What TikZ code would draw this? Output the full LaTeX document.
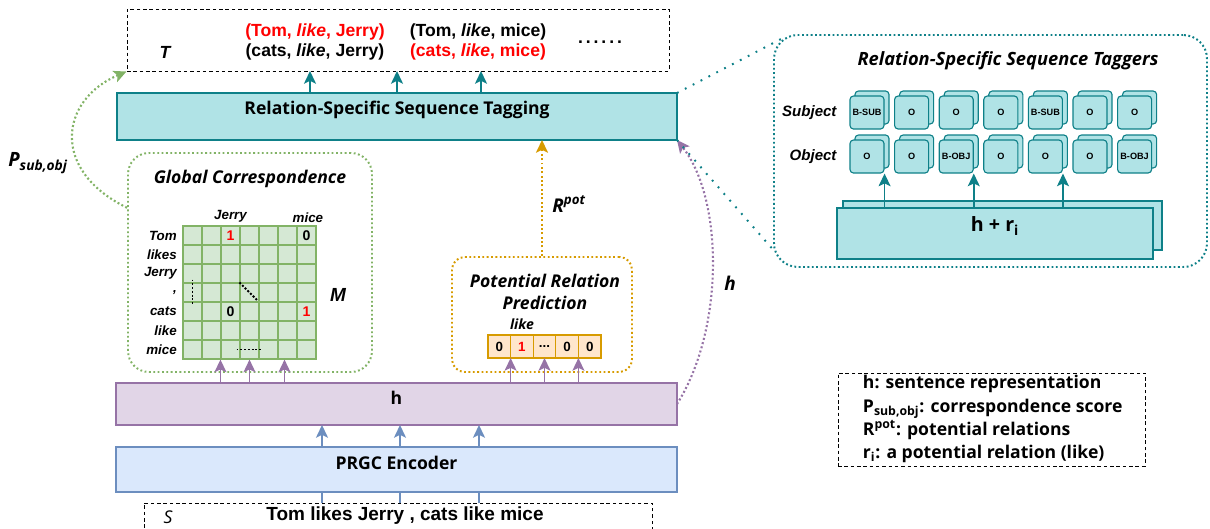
\documentclass[tikz,border=0pt]{standalone}
\usepackage{fontspec}
\setmainfont{Liberation Sans}
\newfontfamily\comic{Open Sans}
\usetikzlibrary{arrows.meta,fit,positioning,calc}

\definecolor{tealfill}{HTML}{B0E3E6}
\definecolor{tealline}{HTML}{0E8088}
\definecolor{purpfill}{HTML}{E1D5E7}
\definecolor{purpline}{HTML}{9673A6}
\definecolor{bluefill}{HTML}{DAE8FC}
\definecolor{blueline}{HTML}{6C8EBF}
\definecolor{grnfill}{HTML}{D5E8D4}
\definecolor{grnline}{HTML}{82B366}
\definecolor{orgfill}{HTML}{FFE6CC}
\definecolor{orgline}{HTML}{D79B00}

\tikzset{
  box/.style={draw,inner sep=0pt,outer sep=0pt,line width=0.9pt},
  dashbox/.style={draw,inner sep=0pt,dash pattern=on 2.5pt off 2pt,line width=0.7pt},
  tealbox/.style={box,draw=tealline,fill=tealfill},
  dotbox/.style={draw,inner sep=0pt,line width=1.4pt,dash pattern=on 1.3pt off 1.8pt},
  cell/.style={draw=grnline,fill=grnfill,line width=0.8pt,minimum size=0.475cm,inner sep=0pt},
  vcell/.style={draw=orgline,fill=orgfill,line width=0.8pt,minimum width=0.565cm,minimum height=0.575cm,inner sep=0pt,outer sep=0pt,font=\bfseries\fontsize{9.5}{10}\selectfont},
  tagcell/.style={draw=tealline,fill=tealfill,line width=0.8pt,rounded corners=2.5pt,minimum width=0.85cm,minimum height=0.825cm,inner sep=0pt,font=\bfseries\fontsize{6.5}{7}\selectfont},
  comicb/.style={font=\comic\bfseries\fontsize{12.5}{14}\selectfont},
  comicbi/.style={font=\comic\bfseries\itshape\fontsize{12.5}{14}\selectfont},
  triple/.style={font=\bfseries\fontsize{12.5}{14}\selectfont},
  lab/.style={font=\bfseries\itshape\fontsize{9.5}{10}\selectfont,inner sep=1pt},
  val/.style={font=\bfseries\fontsize{10}{11}\selectfont},
  arr/.style={-{Stealth[length=9pt,width=8.5pt,inset=2pt]},line width=1.2pt},
  dots/.style={line width=1.5pt,dash pattern=on 1.4pt off 1.7pt},
}

\begin{document}
\begin{tikzpicture}[x=0.025cm,y=-0.025cm]
\useasboundingbox (0,0) rectangle (1210,528);

% output triples
\node[dashbox,fit={(127,9) (669,71)}] (tbox) {};
\node[font=\bfseries\itshape\fontsize{12.5}{14}\selectfont] (tl) at (165,52) {T};
\node[triple,text=red] (tr1) at (315,32) {(Tom, \textit{like}, Jerry)};
\node[triple] (tr2) at (315,52) {(cats, \textit{like}, Jerry)};
\node[triple] (tr3) at (478,32) {(Tom, \textit{like}, mice)};
\node[triple,text=red] (tr4) at (478,52) {(cats, \textit{like}, mice)};
\node[triple] (tdots) at (600,42) {.\,.\,.\,.\,.\,.};

% main stack
\node[tealbox,fit={(117,93) (677,140)},comicb] (rsst) {Relation-Specific Sequence Tagging};
\node[box,draw=purpline,fill=purpfill,fit={(116,383) (677,425)},comicb] (hbox) {h};
\node[box,draw=blueline,fill=bluefill,fit={(116,447) (677,492)},comicb] (enc) {PRGC Encoder};
\node[dashbox,fit={(144,503) (652,535)}] (sbox) {};
\node[font=\comic\itshape\fontsize{12.5}{14}\selectfont] (sl) at (168,517) {S};
\node[font=\bfseries\fontsize{13.5}{15}\selectfont] (sent) at (405,516) {Tom likes Jerry , cats like mice};

\foreach \dx in {-87,0,84}
  \draw[arr,tealline] ($(rsst.north)+(\dx,0)$) -- ++(0,-22);
\foreach \dx in {-74.5,3.5,82.5}{
  \draw[arr,blueline] ($(enc.north)+(\dx,0)$) -- ++(0,-22);
  \draw[blueline,line width=1.2pt] ($(enc.south)+(\dx,11)$) -- ($(enc.south)+(\dx,0)$);
}

% global correspondence
\node[dotbox,draw=grnline,rounded corners=15pt,fit={(128,153) (372,372)}] (glob) {};
\node[comicbi] (gtitle) at (250,179) {Global Correspondence};
\foreach \r in {1,...,7}
  \foreach \c in {1,...,7}
    \node[cell] (m-\r-\c) at ({192.5+19*(\c-1)},{235.5+19*(\r-1)}) {};
\foreach \w [count=\r] in {Tom,likes,Jerry,{,},cats,like,mice}
  \node[lab,anchor=east] (rl-\r) at ($(m-\r-1.west)+(-4,0)$) {\w};
\node[lab,above=1pt of m-1-3] (cl-3) {Jerry};
\node[lab,above=1pt of m-1-7,xshift=1pt] (cl-7) {mice};
\node[val,text=red] (v13) at (m-1-3) {1};
\node[val] (v17) at (m-1-7) {0};
\node[val] (v53) at (m-5-3) {0};
\node[val,text=red] (v57) at (m-5-7) {1};
\draw[dots,line width=1.4pt,dash pattern=on 1.4pt off 1.3pt] ($(m-3-1.center)+(0,6)$) -- ($(m-4-1.south)+(0,3)$);
\draw[dots,line width=1.4pt,dash pattern=on 1.4pt off 1.3pt] (m-4-4.north west) -- ($(m-4-4.south east)+(-2,-2)$);
\draw[dots,line width=1.4pt,dash pattern=on 1.4pt off 1.3pt] ($(m-7-4.center)+(-13,0)$) -- ($(m-7-4.center)+(13,0)$);
\node[font=\bfseries\itshape\fontsize{13.5}{15}\selectfont] (mlab) at (338,295) {M};

\draw[arr,purpline] (hbox.north -| m-7-3.south west) -- (m-7-3.south west);
\draw[arr,purpline] (hbox.north -| m-7-4.south) -- (m-7-4.south);
\draw[arr,purpline] ($(hbox.north -| m-7-6.south)+(-3,0)$) -- ($(m-7-6.south)+(-3,0)$);

% potential relation prediction
\node[dotbox,draw=orgline,rounded corners=9pt,fit={(452,257) (632,372)}] (prp) {};
\node[align=center,font=\comic\bfseries\itshape\fontsize{12.5}{15.5}\selectfont] (ptitle) at (545,292) {Potential Relation\\Prediction};
\node[vcell] (v1) at (499.3,346.5) {0};
\node[vcell,right=0pt of v1] (v2) {\textcolor{red}{1}};
\node[vcell,right=0pt of v2] (v3) {...};
\node[vcell,right=0pt of v3] (v4) {0};
\node[vcell,right=0pt of v4] (v5) {0};
\node[font=\comic\bfseries\itshape\fontsize{10}{11}\selectfont] (likelab) at (522,324) {like};
\draw[arr,purpline] (hbox.north -| v1.south east) -- (v1.south east);
\draw[arr,purpline] (hbox.north -| v3.south) -- (v3.south);
\draw[arr,purpline] (hbox.north -| v4.south east) -- (v4.south east);

% curved links
\draw[dots,grnline,-{Stealth[length=9pt,width=8.5pt,inset=2pt]}] (glob.156) .. controls (50,170) and (60,100) .. (tbox.south west);
\node[font=\comic\bfseries\itshape\fontsize{14}{15}\selectfont] (plab) at (38,163) {P\textsubscript{sub,obj}};
\draw[dots,orgline,-{Stealth[length=9pt,width=8.5pt,inset=2pt]}] (prp.north) -- (prp.north |- rsst.south);
\node[font=\comic\bfseries\itshape\fontsize{13.5}{15}\selectfont] (rlab) at (569,204) {R\textsuperscript{pot}};
\draw[dots,purpline,-{Stealth[length=9pt,width=8.5pt,inset=2pt]}] (hbox.east) .. controls (724,330) and (724,200) .. (rsst.south east);
\node[font=\comic\bfseries\itshape\fontsize{13.5}{15}\selectfont] (hlab) at (730,283) {h};

% zoom into the taggers
\node[dotbox,draw=tealline,rounded corners=17pt,fit={(774,35) (1207,267)}] (tagbox) {};
\draw[tealline,line width=1.4pt,dash pattern=on 1.3pt off 5pt] (rsst.north east) -- ($(tagbox.north west)+(8,5)$);
\draw[tealline,line width=1.4pt,dash pattern=on 1.3pt off 5pt] (rsst.south east) -- ($(tagbox.south west)+(3,-15)$);
\node[font=\comic\bfseries\itshape\fontsize{13}{14}\selectfont] (ttitle) at (1008,61) {Relation-Specific Sequence Taggers};

\foreach \t [count=\c] in {B-SUB,O,O,O,B-SUB,O,O}{
  \node[tagcell] (sb-\c) at ({872+44.6*(\c-1)},107.5) {};
  \node[tagcell] (s-\c) at ({867+44.6*(\c-1)},112.5) {\t};
}
\foreach \t [count=\c] in {O,O,B-OBJ,O,O,O,B-OBJ}{
  \node[tagcell] (ob-\c) at ({872+44.6*(\c-1)},151.5) {};
  \node[tagcell] (o-\c) at ({867+44.6*(\c-1)},156.5) {\t};
}
\node[lab,font=\bfseries\itshape\fontsize{10.7}{12}\selectfont,left=8pt of s-1] (subj) {Subject};
\node[lab,font=\bfseries\itshape\fontsize{10.7}{12}\selectfont,left=8pt of o-1] (obj) {Object};

\node[tealbox,fit={(843,201) (1162,250)}] (hrb) {};
\node[tealbox,fit={(837,208) (1153,259)},font=\comic\bfseries\fontsize{14}{15}\selectfont] (hr) {h + r\textsubscript{i}};
\foreach \c in {1,3,5}
  \draw[arr,tealline] (hr.north -| o-\c.south east) -- (o-\c.south east);

% legend
\node[dashbox,fit={(838,373) (1145,466)}] (legbox) {};
\node[anchor=west,align=left,font=\comic\bfseries\fontsize{12.5}{16.4}\selectfont] (leg) at (858,419)
  {h: sentence representation\\P\textsubscript{sub,obj}: correspondence score\\R\textsuperscript{pot}: potential relations\\r\textsubscript{i}: a potential relation (like)};
\end{tikzpicture}
\end{document}
